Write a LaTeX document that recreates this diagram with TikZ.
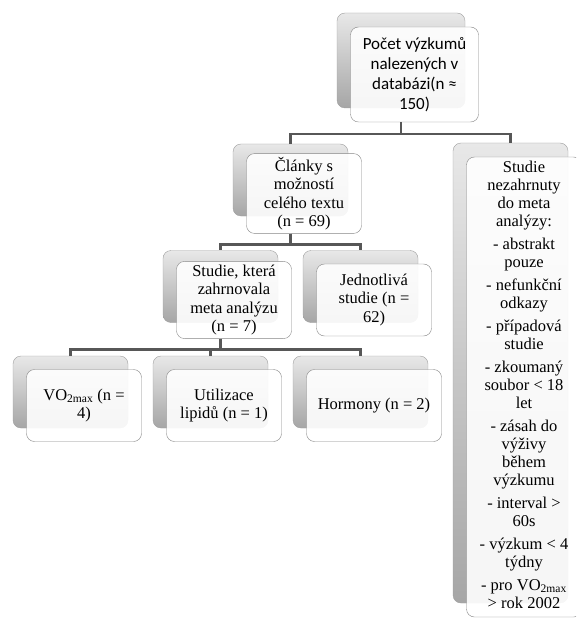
\documentclass[tikz,border=0pt]{standalone}
\usepackage{fontspec}
\setmainfont{Liberation Serif}
\newfontfamily\calfont{Carlito}
\usepackage{tikz}
\usetikzlibrary{positioning,calc}

\begin{document}
\begin{tikzpicture}[
  x=1pt, y=-1pt,
  back/.style  = {draw=gray!75, rounded corners=8pt, top color=gray!18,
                  bottom color=gray!70, minimum width=115pt, minimum height=72pt},
  front/.style = {draw=gray!95, rounded corners=8pt, fill=white, fill opacity=0.9,
                  text opacity=1, minimum width=115pt, minimum height=72pt,
                  align=center, font=\fontsize{16.5}{18.5}\selectfont},
  link/.style  = {draw=black!66, line width=2.6pt},
]
\clip (0,0) rectangle (576,620);

% ========== Top: databases ==========
\node[back, minimum width=128pt, minimum height=95pt] (topB) at (401,60.5) {};
\node[front, minimum width=128pt, minimum height=95pt,
      font=\calfont\fontsize{17}{20}\selectfont] (top) at (414.5,74.5)
  {Počet výzkumů\\nalezených v\\databázi(n ≈\\150)};

% ========== Level 1 ==========
\node[back]  (clB) at (290.5,180) {};
\node[front] (cl)  at (304,193.5)
  {Články s\\možností\\celého textu\\(n = 69)};

\node[back, minimum height=460pt]  (excB) at (510.5,373) {};
\node[front, minimum height=460pt] (exc)  at (524,387) {};
\node[anchor=north, inner sep=2pt, align=center,
      font=\fontsize{16.5}{18}\selectfont] (exct) at (exc.north |- 0,158.5)
  {Studie\\nezahrnuty\\do meta\\analýzy:\\[5pt]
   - abstrakt\\pouze\\[5pt]
   - nefunkční\\odkazy\\[5pt]
   - případová\\studie\\[5pt]
   - zkoumaný\\soubor < 18\\let\\[5pt]
   - zásah do\\výživy\\během\\výzkumu\\[5pt]
   - interval >\\60s\\[5pt]
   - výzkum < 4\\týdny\\[5pt]
   - pro VO\textsubscript{2max}\\> rok 2002};

% ========== Level 2 ==========
\node[back]  (metaB) at (220.5,286.5) {};
\node[front] (meta)  at (234,300)
  {Studie, která\\zahrnovala\\meta analýzu\\(n = 7)};

\node[back]  (jedB) at (360.5,286.5) {};
\node[front] (jed)  at (374,300)
  {Jednotlivá\\studie (n =\\62)};

% ========== Level 3 ==========
\node[back]  (voB) at (70.5,392) {};
\node[front] (vo) at (84,405.5)
  {VO\textsubscript{2max} (n =\\4)};

\node[back]  (lipB) at (210.5,392) {};
\node[front] (lip)  at (224,405.5)
  {Utilizace\\lipidů (n = 1)};

\node[back, minimum width=135pt]  (horB) at (360.5,392) {};
\node[front, minimum width=135pt] (hor)  at (374,405.5)
  {Hormony (n = 2)};

% ========== Connectors ==========
\draw[link] (topB |- top.south) -- ++(0,12) -| (clB.north);
\draw[link] (topB |- top.south) -- ++(0,12) -| (excB.north);
\draw[link] (clB |- cl.south) -- ++(0,11) -| (metaB.north);
\draw[link] (clB |- cl.south) -- ++(0,11) -| (jedB.north);
\draw[link] (metaB |- meta.south) -- ++(0,11) -| (voB.north);
\draw[link] (metaB |- meta.south) -- ++(0,11) -| (lipB.north);
\draw[link] (metaB |- meta.south) -- ++(0,11) -| (horB.north);

\end{tikzpicture}
\end{document}
